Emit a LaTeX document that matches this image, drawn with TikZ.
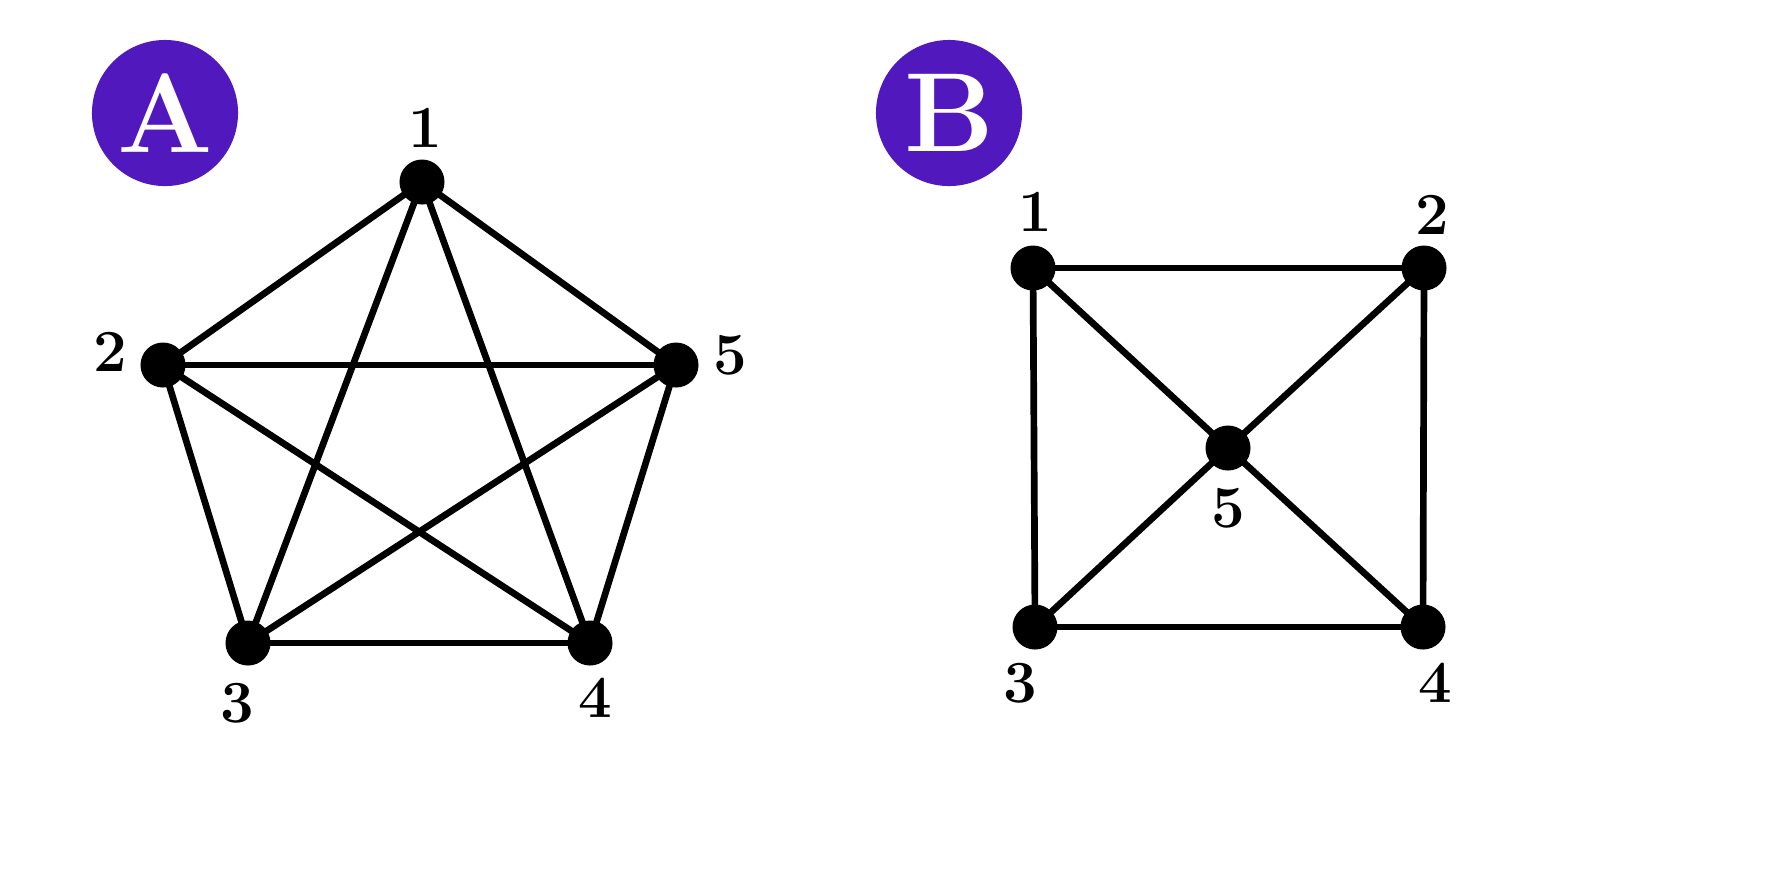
\documentclass[tikz,border=0pt]{standalone}
\begin{document}
\begin{tikzpicture}[x=0.01cm,y=-0.01cm,
  v/.style={circle,fill=black,inner sep=0pt,minimum size=0.45cm},
  lab/.style={font=\fontsize{17}{17}\selectfont\bfseries},
  badge/.style={circle,fill=badgec,minimum size=1.46cm,inner sep=0pt,text=white,font=\fontsize{32}{32}\selectfont\bfseries},
  e/.style={line width=1.9pt}]
\definecolor{badgec}{HTML}{5118BE}
\useasboundingbox (0,0) rectangle (1774,887);
\node[badge] (ba) at (165,113) {\textbf{A}};
\node[badge] (bb) at (949,113) {\textbf{B}};
% Graph A
\node[v] (a1) at (422,182) {};
\node[v] (a2) at (163,365) {};
\node[v] (a5) at (676,365) {};
\node[v] (a3) at (248,643) {};
\node[v] (a4) at (590,643) {};
\node[lab] (la1) at (425,128) {1};
\node[lab] (la2) at (110,352) {2};
\node[lab] (la5) at (730,355) {5};
\node[lab] (la3) at (237,703) {3};
\node[lab] (la4) at (595,698) {4};
\foreach \a/\b in {a1/a2,a1/a5,a1/a3,a1/a4,a2/a5,a2/a3,a2/a4,a5/a3,a5/a4,a3/a4}
  \draw[e] (\a.center) -- (\b.center);
% Graph B
\node[v] (b1) at (1033,268) {};
\node[v] (b2) at (1424,268) {};
\node[v] (b3) at (1035,627) {};
\node[v] (b4) at (1423,627) {};
\node[v] (b5) at (1228,448) {};
\node[lab] (lb1) at (1035,212) {1};
\node[lab] (lb2) at (1432,215) {2};
\node[lab] (lb3) at (1020,683) {3};
\node[lab] (lb4) at (1435,683) {4};
\node[lab] (lb5) at (1228,508) {5};
\foreach \a/\b in {b1/b2,b1/b3,b2/b4,b3/b4,b1/b5,b2/b5,b3/b5,b4/b5}
  \draw[e] (\a.center) -- (\b.center);
\end{tikzpicture}
\end{document}
